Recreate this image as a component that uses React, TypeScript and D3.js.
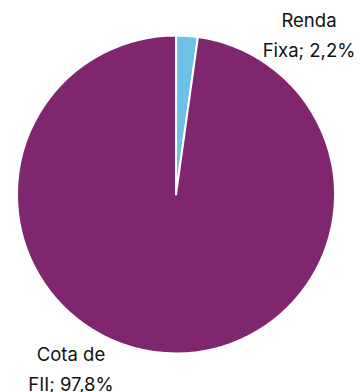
import React from "react";
import * as d3 from "d3";

const categories = ["Renda Fixa", "Cota de FII"];
const values = [2.2, 97.8];
const labelLines = [["Renda", "Fixa; 2,2%"], ["Cota de", "FII; 97,8%"]];
const colors = ["#6EC1E6", "#80266E"];

export default function App() {
  const width = 360;
  const height = 392;
  const cx = 176;
  const cy = 194.5;
  const r = 159;
  const pie = d3.pie<number>().sort(null).value((d) => d)(values);
  const arc = d3.arc<d3.PieArcDatum<number>>().innerRadius(0).outerRadius(r);
  const labelPos = [
    { x: 309, y: 27 },
    { x: 71, y: 361 },
  ];
  return (
    <svg
      width={width}
      height={height}
      style={{ position: "absolute", left: 0, top: 0, background: "#fff" }}
    >
      <g transform={`translate(${cx},${cy})`}>
        {pie.map((p, i) => (
          <path
            key={categories[i]}
            d={arc(p) || ""}
            fill={colors[i]}
            stroke="#fff"
            strokeWidth={2}
            strokeLinejoin="round"
          />
        ))}
      </g>
      {labelLines.map((lines, i) => (
        <text
          key={categories[i]}
          x={labelPos[i].x}
          y={labelPos[i].y}
          textAnchor="middle"
          fontFamily="Inter, 'Noto Sans', sans-serif"
          fontSize={18.5}
          fill="#111"
        >
          {lines.map((l, j) => (
            <tspan key={j} x={labelPos[i].x} y={labelPos[i].y + j * 29.5}>
              {l}
            </tspan>
          ))}
        </text>
      ))}
    </svg>
  );
}
